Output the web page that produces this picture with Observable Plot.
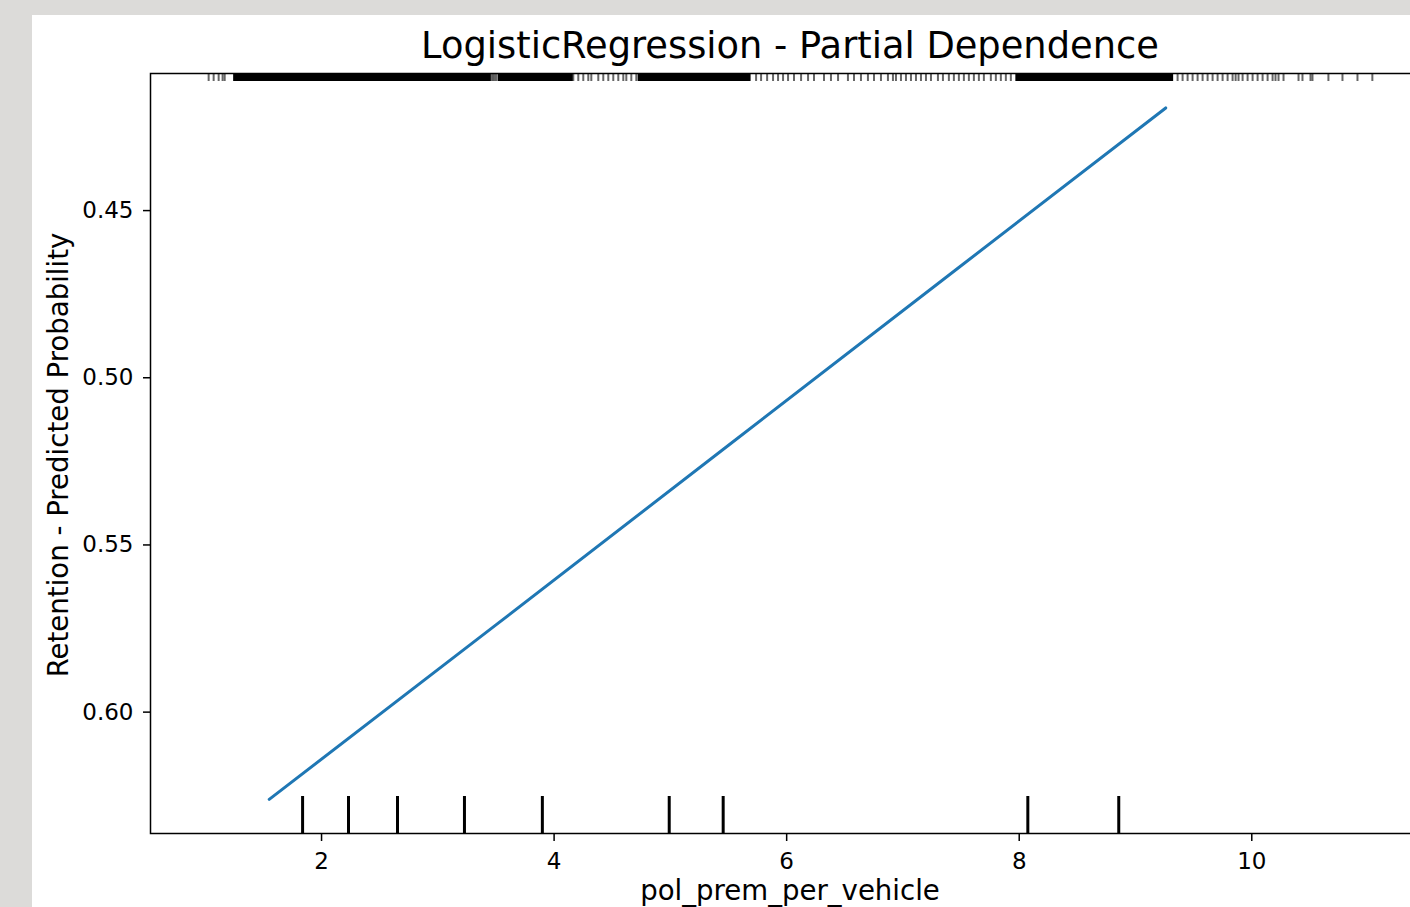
<!DOCTYPE html>
<html>
<head>
<meta charset="utf-8">
<script src="https://cdn.jsdelivr.net/npm/d3@7"></script>
<script src="https://cdn.jsdelivr.net/npm/@observablehq/plot@0.6"></script>
<style>
  html, body { margin: 0; padding: 0; width: 1410px; height: 907px; overflow: hidden; background: #dcdbd9; font-family: "DejaVu Sans", sans-serif; }
  #panel { position: absolute; left: 32px; top: 15px; width: 1420px; height: 900px; background: #ffffff; }
  #chart { position: absolute; left: 0; top: 0; width: 1460px; }
  #chart svg { max-width: none !important; }
  .lbl { position: absolute; color: #000; line-height: 1; white-space: nowrap; font-family: "DejaVu Sans", sans-serif; }
  #title { left: 790px; top: 28px; font-size: 36.8px; transform: translateX(-50%); }
  #xlabel { left: 790px; top: 877px; font-size: 27.6px; transform: translateX(-50%); }
  #ylabel { left: 58.5px; top: 455px; font-size: 27.6px; transform: translate(-50%, -50%) rotate(-90deg); }
</style>
</head>
<body>
<div id="panel"></div>
<div id="chart"></div>
<div class="lbl" id="title"></div>
<div class="lbl" id="xlabel"></div>
<div class="lbl" id="ylabel"></div>
<script>
// ---- Data ----
const titleText = "LogisticRegression - Partial Dependence";
const xLabelText = "pol_prem_per_vehicle";
const yLabelText = "Retention - Predicted Probability";

// Partial dependence curve
const pdX = [1.55, 3.5, 5.5, 7.5, 9.26];
const pdY = [0.6261, 0.5739, 0.5202, 0.4665, 0.4193];

// Decile markers (bottom)
const deciles = [1.837, 2.232, 2.653, 3.229, 3.899, 4.99, 5.454, 8.074, 8.856];

// Rug (top): densely covered ranges and individual ticks
const rugDense = [[1.244, 3.46], [3.52, 4.165], [4.723, 5.694], [7.971, 9.328]];
const rugTicks = [
  1.029, 1.072, 1.115, 1.149, 1.167,
  3.46, 3.475, 3.49, 3.505,
  4.165, 4.208, 4.251, 4.294, 4.320, 4.380, 4.423, 4.466, 4.509, 4.552, 4.595, 4.621, 4.664, 4.707,
  5.737, 5.780, 5.832, 5.883, 5.926, 5.969, 6.012, 6.063, 6.124, 6.184, 6.235, 6.321, 6.381, 6.442,
  6.527, 6.579, 6.639, 6.699, 6.751, 6.811, 6.871, 6.914,
  6.940, 6.983, 7.026, 7.069, 7.112, 7.155, 7.198, 7.241, 7.301, 7.344, 7.395, 7.438, 7.481, 7.524,
  7.567, 7.610, 7.653, 7.696, 7.756, 7.799, 7.842, 7.885, 7.928,
  9.362, 9.405, 9.448, 9.491, 9.534, 9.577, 9.620, 9.663, 9.706, 9.749, 9.792, 9.835, 9.861, 9.886,
  9.921, 9.964, 10.007, 10.050, 10.093, 10.136, 10.179, 10.204, 10.230, 10.273,
  10.402, 10.436, 10.505, 10.522, 10.659, 10.780, 10.909, 11.037
];

// Axes
const xTicks = [2, 4, 6, 8, 10];
const yTicks = [0.45, 0.50, 0.55, 0.60];
const xDomain = [0.529, 11.537];
const yDomain = [0.409, 0.6363];

// ---- Build ----
const curve = pdX.map((x, i) => ({x, y: pdY[i]}));

const width = 1460, height = 880;
const mTop = 73, mBottom = 47, mLeft = 150, mRight = 30;
const innerH = height - mTop - mBottom; // 760

const chart = Plot.plot({
  width, height,
  marginTop: mTop, marginBottom: mBottom, marginLeft: mLeft, marginRight: mRight,
  style: {background: "transparent", color: "#000", fontFamily: "DejaVu Sans, sans-serif", fontSize: "23px", maxWidth: "none"},
  x: {domain: xDomain},
  y: {domain: yDomain, reverse: true},
  marks: [
    Plot.axisX({ticks: xTicks, tickSize: 8, tickPadding: 11, fontSize: 23, strokeWidth: 1.5, label: null, tickFormat: d3.format("d")}),
    Plot.axisY({ticks: yTicks, tickSize: 7, tickPadding: 10, fontSize: 23, strokeWidth: 1.5, label: null, tickFormat: d3.format(".2f")}),
    Plot.rect(rugDense, {x1: d => d[0], x2: d => d[1], fill: "#000", insetBottom: innerH - 8}),
    Plot.ruleX(rugTicks, {x: d => d, stroke: "#000", strokeOpacity: 0.6, strokeWidth: 2, insetBottom: innerH - 8}),
    Plot.ruleX(deciles, {x: d => d, stroke: "#000", strokeWidth: 3, insetTop: innerH - 37}),
    Plot.line(curve, {x: "x", y: "y", stroke: "#1f77b4", strokeWidth: 3}),
    Plot.frame({stroke: "#000", strokeWidth: 1.5})
  ]
});
document.getElementById("chart").appendChild(chart);
document.getElementById("title").textContent = titleText;
document.getElementById("xlabel").textContent = xLabelText;
document.getElementById("ylabel").textContent = yLabelText;
</script>
</body>
</html>
